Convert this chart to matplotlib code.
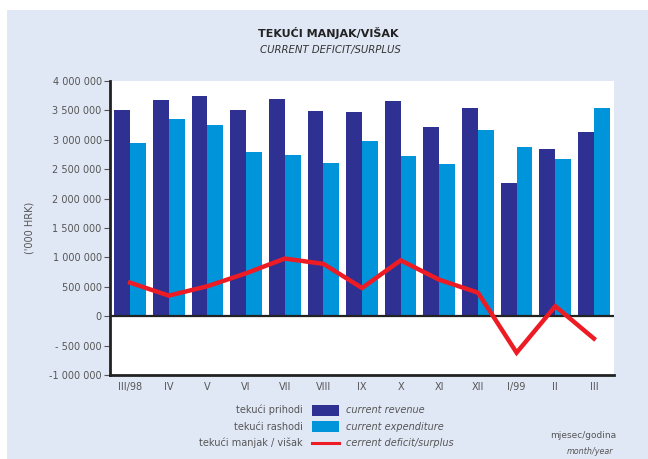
import numpy as np
import matplotlib.pyplot as plt
from matplotlib.patches import Rectangle
from matplotlib.lines import Line2D
from matplotlib.ticker import FuncFormatter

months = ['III/98', 'IV', 'V', 'VI', 'VII', 'VIII', 'IX', 'X', 'XI', 'XII', 'I/99', 'II', 'III']
revenue = [3510000, 3680000, 3750000, 3510000, 3700000, 3490000, 3470000, 3660000, 3220000, 3540000, 2270000, 2850000, 3140000]
expenditure = [2950000, 3360000, 3260000, 2800000, 2750000, 2610000, 2980000, 2730000, 2590000, 3160000, 2880000, 2680000, 3540000]
deficit = [570000, 350000, 510000, 730000, 980000, 890000, 480000, 950000, 620000, 400000, -620000, 170000, -380000]

dark = '#2e3192'
light = '#0095da'
red = '#ed1c24'
bg = '#e1e8f5'
grey = '#555555'

W, H = 648, 459
fig = plt.figure(figsize=(W / 100, H / 100), dpi=100)
fig.patch.set_facecolor('white')
fig.add_artist(Rectangle((7 / W, 0), 1, 1 - 10 / H, transform=fig.transFigure,
                         facecolor=bg, edgecolor='none', zorder=0))

ax = fig.add_axes([110 / W, 1 - 375 / H, 504 / W, 294 / H])
ax.set_facecolor('white')

x = np.arange(len(months))
bw = 0.41
ax.bar(x - bw / 2, revenue, bw, color=dark, zorder=2)
ax.bar(x + bw / 2, expenditure, bw, color=light, zorder=2)
ax.axhline(0, color='#222222', lw=1.6, zorder=3)
ax.plot(x, deficit, color=red, lw=3.2, solid_joinstyle='miter', zorder=4)

ax.set_xlim(-0.52, 12.52)
ax.set_ylim(-1000000, 4000000)
ax.set_yticks(np.arange(-1000000, 4000001, 500000))


def fmt(v, pos):
    if v == 0:
        return '0'
    s = '{:,.0f}'.format(abs(v)).replace(',', ' ')
    if v < 0:
        return ('- ' if v > -1000000 else '-') + s
    return s


ax.yaxis.set_major_formatter(FuncFormatter(fmt))
ax.set_xticks(x)
ax.set_xticklabels(months)
ax.tick_params(axis='y', colors=grey, labelsize=7, length=4, width=0.8, pad=2)
ax.tick_params(axis='x', colors=grey, labelsize=7, length=0, pad=5)

for s in ['top', 'right']:
    ax.spines[s].set_visible(False)
ax.spines['left'].set_linewidth(2)
ax.spines['bottom'].set_linewidth(2)
ax.spines['left'].set_color('#222222')
ax.spines['bottom'].set_color('#222222')

fig.text(30 / W, 1 - 228 / H, "('000 HRK)", rotation=90, ha='center', va='center',
         fontsize=7, color=grey)

fig.text(328 / W, 1 - 33 / H, 'TEKUĆI MANJAK/VIŠAK', ha='center', va='center',
         fontsize=8, fontweight='bold', color='#222222')
fig.text(330 / W, 1 - 50 / H, 'CURRENT DEFICIT/SURPLUS', ha='center', va='center',
         fontsize=7.3, style='italic', color='#333333')

# legend below the chart
rows = [('tekući prihodi', 'current revenue', dark, 'bar'),
        ('tekući rashodi', 'current expenditure', light, 'bar'),
        ('tekući manjak / višak', 'cerrent deficit/surplus', red, 'line')]
for i, (hr, en, c, kind) in enumerate(rows):
    yc = 1 - (410 + i * 16.5) / H
    fig.text(303 / W, yc, hr, ha='right', va='center', fontsize=7, color=grey)
    fig.text(346 / W, yc, en, ha='left', va='center', fontsize=7, style='italic', color=grey)
    if kind == 'bar':
        fig.add_artist(Rectangle((312 / W, yc - 5.5 / H), 27 / W, 11 / H,
                                 transform=fig.transFigure, facecolor=c, edgecolor='none'))
    else:
        fig.add_artist(Line2D([312 / W, 339 / W], [yc, yc], transform=fig.transFigure,
                              color=c, lw=2.2))

fig.text(616 / W, 1 - 436 / H, 'mjesec/godina', ha='right', va='center', fontsize=6.5, color=grey)
fig.text(613 / W, 1 - 451 / H, 'month/year', ha='right', va='center', fontsize=5.8,
         style='italic', color=grey)

fig.savefig('out.png', dpi=100, facecolor=fig.get_facecolor())
